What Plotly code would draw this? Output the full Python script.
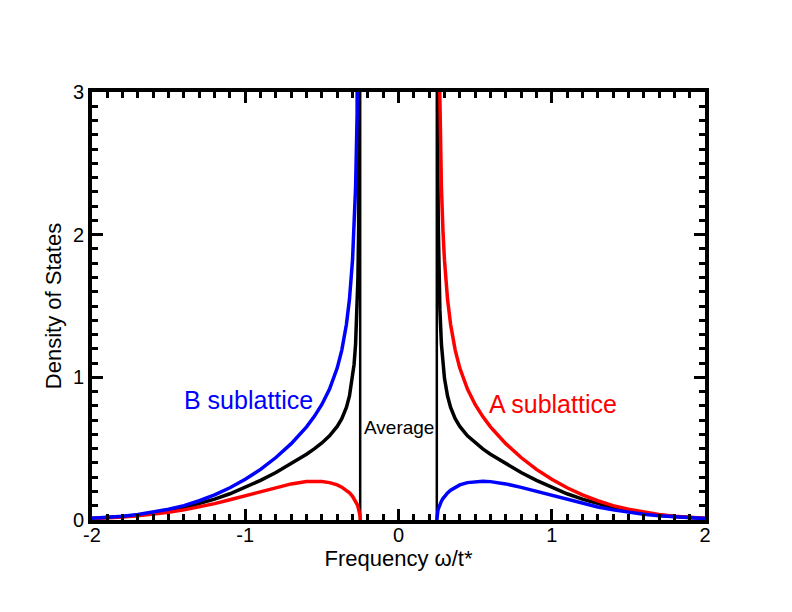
import plotly.graph_objects as go

# Frequencies (omega/t*) on the positive side of the gap; the negative side mirrors them
omega_pos = [0.25, 0.2505, 0.251, 0.252, 0.254, 0.257, 0.26, 0.265, 0.27, 0.28, 0.29,
             0.30, 0.32, 0.34, 0.37, 0.40, 0.45, 0.50, 0.55, 0.60, 0.70, 0.80, 0.90,
             1.00, 1.10, 1.20, 1.30, 1.40, 1.50, 1.60, 1.70, 1.80, 1.90, 2.00]
# Average DOS (value at the gap edge is off the top of the chart)
dos_avg_pos = [12.0, 8.932, 6.324, 4.483, 3.185, 2.425, 2.044, 1.688, 1.478, 1.233, 1.090,
               0.993, 0.869, 0.789, 0.710, 0.656, 0.590, 0.540, 0.498, 0.461, 0.394, 0.333, 0.278,
               0.228, 0.184, 0.146, 0.113, 0.086, 0.064, 0.047, 0.034, 0.024, 0.016, 0.011]
# A sublattice DOS for omega > 0
dos_A_pos = [25.0, 17.846, 12.622, 8.930, 6.320, 4.785, 4.009, 3.280, 2.847, 2.334, 2.029,
             1.821, 1.547, 1.370, 1.191, 1.065, 0.918, 0.810, 0.725, 0.653, 0.535, 0.438, 0.355,
             0.285, 0.226, 0.176, 0.135, 0.101, 0.075, 0.054, 0.039, 0.027, 0.019, 0.013]
# B sublattice DOS for omega > 0
dos_B_pos = [0.0, 0.018, 0.025, 0.036, 0.050, 0.066, 0.079, 0.096, 0.110, 0.132, 0.150,
             0.166, 0.190, 0.209, 0.230, 0.246, 0.262, 0.270, 0.272, 0.269, 0.253, 0.229, 0.201,
             0.171, 0.142, 0.115, 0.091, 0.071, 0.054, 0.040, 0.029, 0.021, 0.014, 0.010]
gap_edges = [-0.25, 0.25]

x_range = [-2, 2]
y_range = [0, 3]
x_ticks = [-2, -1, 0, 1, 2]
y_ticks = [0, 1, 2, 3]

# Mirror to negative frequencies: A(-w) = B(w), B(-w) = A(w)
omega_neg = [-w for w in reversed(omega_pos)]
dos_avg_neg = list(reversed(dos_avg_pos))
dos_A_neg = list(reversed(dos_B_pos))
dos_B_neg = list(reversed(dos_A_pos))

FONT = "Liberation Sans, Arial, Helvetica, sans-serif"
fig = go.Figure()

# thin vertical gap-edge lines
vx, vy = [], []
for g in gap_edges:
    vx += [g, g, None]
    vy += [y_range[0], y_range[1], None]
fig.add_trace(go.Scatter(x=vx, y=vy, mode="lines", line=dict(color="black", width=2.5),
                         hoverinfo="skip", showlegend=False))

for xs, ys, col in [
    (omega_neg, dos_avg_neg, "black"), (omega_pos, dos_avg_pos, "black"),
    (omega_neg, dos_A_neg, "#ff0000"), (omega_pos, dos_A_pos, "#ff0000"),
    (omega_neg, dos_B_neg, "#0000ff"), (omega_pos, dos_B_pos, "#0000ff"),
]:
    fig.add_trace(go.Scatter(x=xs, y=ys, mode="lines", line=dict(color=col, width=3.5),
                             showlegend=False))

fig.add_annotation(x=-0.98, y=0.84, text="B sublattice", showarrow=False,
                   font=dict(family=FONT, size=25, color="#0000ff"))
fig.add_annotation(x=1.01, y=0.81, text="A sublattice", showarrow=False,
                   font=dict(family=FONT, size=25, color="#ff0000"))
fig.add_annotation(x=0.0, y=0.645, text="Average", showarrow=False,
                   font=dict(family=FONT, size=19, color="black"))

axis_common = dict(showline=True, linecolor="black", linewidth=4, mirror="allticks",
                   ticks="inside", ticklen=11, tickwidth=2.5, tickcolor="black",
                   showgrid=False, zeroline=False,
                   tickfont=dict(family=FONT, size=20, color="black"))
fig.update_xaxes(range=x_range, tickvals=x_ticks, ticktext=[str(t) for t in x_ticks],
                 ticklabelstandoff=-6,
                 minor=dict(dtick=0.1, ticks="inside", ticklen=6, tickwidth=2.5, tickcolor="black", showgrid=False),
                 title=dict(text="Frequency ω/t*", font=dict(family=FONT, size=22, color="black"), standoff=2),
                 **axis_common)
fig.update_yaxes(range=y_range, tickvals=y_ticks, ticktext=[str(t) for t in y_ticks],
                 minor=dict(dtick=0.1, ticks="inside", ticklen=6, tickwidth=2.5, tickcolor="black", showgrid=False),
                 title=dict(text="Density of States", font=dict(family=FONT, size=22, color="black"), standoff=6),
                 **axis_common)

fig.update_layout(width=792, height=612, plot_bgcolor="white", paper_bgcolor="white",
                  margin=dict(l=84, r=95, t=84, b=100, autoexpand=False),
                  font=dict(family=FONT))
fig.write_html("out.html")
